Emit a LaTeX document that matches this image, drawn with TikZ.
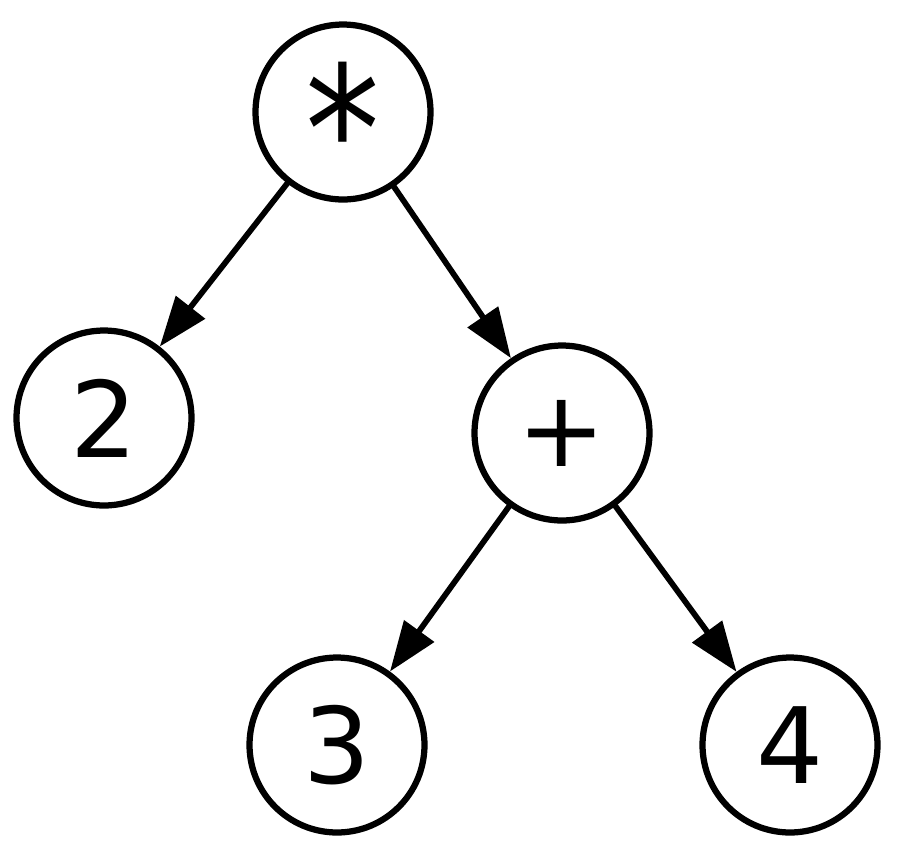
\documentclass[tikz,border=0pt]{standalone}
\usepackage{fontspec}
\setmainfont{DejaVu Sans}
\usetikzlibrary{arrows.meta}

\begin{document}
\begin{tikzpicture}[x=0.02cm,y=-0.02cm,line cap=round,line join=round,
  >={Triangle[length=1cm,width=0.72cm]},
  op/.style={draw,circle,line width=0.125cm,minimum size=3.5cm,inner sep=0pt,
    font=\fontsize{60}{72}\selectfont},
  edge/.style={->,line width=0.115cm}]
\useasboundingbox[fill=white] (0,0) rectangle (900,860);
% the operator sign is raised in the font, so bring it down to the centre
\node[op] (mul) at (343,112) {\raisebox{-46pt}[0pt][0pt]{\fontsize{100}{110}\selectfont\scalebox{0.85}[1]{*}}};
\node[op] (two) at (104,418) {2};
\node[op] (add) at (562,433) {+};
\node[op] (three) at (337,745) {3};
\node[op] (four) at (790,745) {4};
\draw[edge] (mul) -- (two);
\draw[edge] (mul) -- (add);
\draw[edge] (add) -- (three);
\draw[edge] (add) -- (four);
\end{tikzpicture}
\end{document}
